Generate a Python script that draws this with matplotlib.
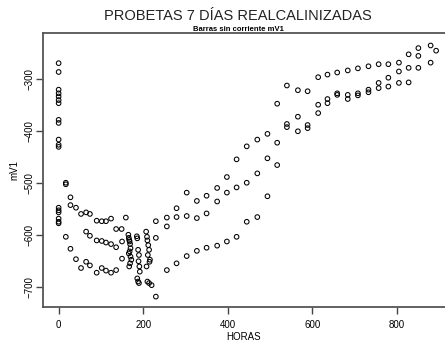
import matplotlib
matplotlib.use("Agg")
import matplotlib.pyplot as plt

# lecturas: horas y potencial (mV)
horas = [
    0, 0, 0, 0, 0, 0, 0, 0, 0, 0, 0, 0, 0, 0, 0, 0, 0, 0,
    17, 17, 17,
    28, 28, 28, 41, 41, 53, 53, 65, 65, 65, 74, 74, 74,
    90, 90, 90, 102, 102, 102, 112, 112, 112, 124, 124, 124,
    136, 136, 136, 149, 150, 150, 159,
    165, 166, 167, 168, 169, 170, 168, 166, 170, 172, 169, 167,
    185, 186, 188, 190, 189, 191, 192, 186, 188, 190,
    207, 209, 210, 212, 214, 211, 216, 215, 208, 210, 214, 220,
    230, 230, 230, 256, 256, 256, 279, 279, 279, 303, 303, 303,
    327, 327, 327, 350, 350, 350, 375, 375, 375, 398, 398, 398,
    421, 421, 421, 445, 445, 445, 470, 470, 470, 494, 494, 494,
    517, 517, 517, 540, 540, 540, 566, 566, 566, 589, 589, 589,
    614, 614, 614, 636, 636, 636, 659, 659, 659, 684, 684, 684,
    708, 708, 708, 733, 733, 733, 757, 757, 757, 780, 780, 780,
    805, 805, 805, 828, 828, 828, 851, 851, 851, 880, 880, 893,
]
mv = [
    -269, -286, -320, -327, -333, -340, -346, -378, -384, -416, -426, -430,
    -547, -552, -556, -568, -574, -577,
    -499, -502, -603,
    -527, -542, -626, -547, -646, -559, -663, -556, -593, -651, -559, -601, -658,
    -572, -610, -672, -573, -611, -663, -573, -614, -668, -568, -617, -672,
    -588, -623, -667, -588, -612, -645, -566,
    -599, -605, -609, -612, -617, -625, -631, -635, -641, -647, -654, -660,
    -602, -606, -628, -638, -650, -660, -670, -683, -689, -692,
    -593, -603, -610, -619, -628, -638, -647, -651, -660, -689, -692, -696,
    -573, -605, -718, -566, -583, -667, -548, -565, -654, -518, -563, -640,
    -534, -567, -630, -524, -558, -624, -509, -535, -620, -488, -518, -612,
    -454, -508, -603, -429, -499, -574, -416, -481, -565, -405, -452, -525,
    -347, -422, -465, -312, -386, -392, -321, -372, -400, -323, -388, -394,
    -296, -349, -365, -291, -338, -346, -287, -327, -330, -283, -330, -338,
    -279, -327, -331, -275, -320, -325, -271, -307, -317, -271, -297, -314,
    -268, -285, -307, -252, -278, -306, -240, -255, -278, -235, -268, -245,
]
x_ticks = [0, 200, 400, 600, 800]
y_ticks = [-700, -600, -500, -400, -300]

plt.rcParams['font.family'] = ['Liberation Sans', 'DejaVu Sans']

fig = plt.figure(figsize=(4.45, 3.42), dpi=100)
ax = fig.add_axes([0.0966, 0.1023, 0.9034, 0.8012])

ax.scatter(horas, mv, s=11, facecolors='none', edgecolors='black', linewidths=0.75)

ax.set_xlim(-37, 914)
ax.set_ylim(-738, -211)
ax.set_xticks(x_ticks)
ax.set_yticks(y_ticks)
ax.tick_params(axis='both', labelsize=7, length=5, width=1, color='#444444')
ax.tick_params(axis='x', pad=4)
ax.tick_params(axis='y', pad=1)
for lab in ax.get_yticklabels():
    lab.set_rotation(90)
    lab.set_va('center')

ax.spines['right'].set_visible(False)
for side in ['left', 'top', 'bottom']:
    ax.spines[side].set_color('#555555')
    ax.spines[side].set_linewidth(1.3)

ax.set_xlabel('HORAS', fontsize=7, labelpad=1.5)
ax.set_ylabel('mV1', fontsize=7, labelpad=4)

fig.text(0.535, 0.952, 'PROBETAS 7 DÍAS REALCALINIZADAS', ha='center', va='center', fontsize=10.5, color='#222222')
fig.text(0.535, 0.913, 'Barras sin corriente mV1', ha='center', va='center', fontsize=5.5, fontweight='bold')

fig.savefig('out.png', dpi=100)
